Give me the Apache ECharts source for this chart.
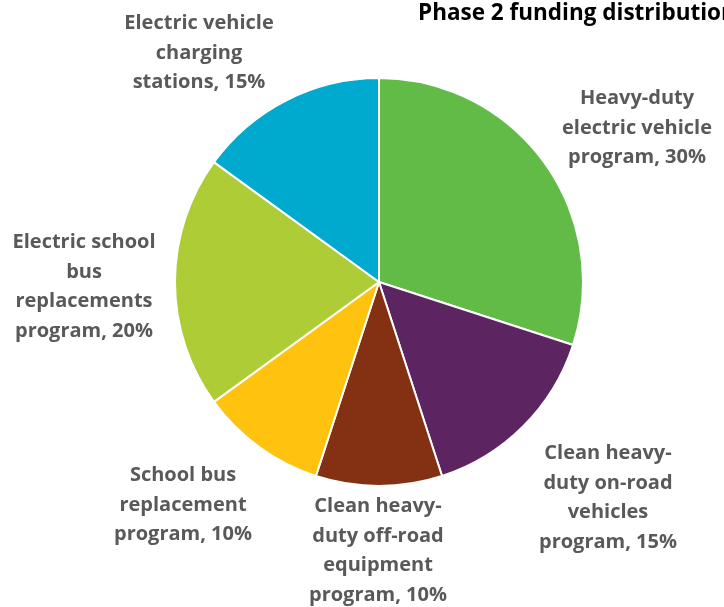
<!DOCTYPE html>
<html><head><meta charset="utf-8">
<script src="https://cdn.jsdelivr.net/npm/echarts@6/dist/echarts.min.js"></script>
<style>html,body{margin:0;padding:0;background:#fff}#c{width:724px;height:607px}</style>
</head><body><div id="c"></div>
<script>
const titleText = 'Phase 2 funding distribution';
const categories = [
  'Heavy-duty\nelectric vehicle\nprogram',
  'Clean heavy-\nduty on-road\nvehicles\nprogram',
  'Clean heavy-\nduty off-road\nequipment\nprogram',
  'School bus\nreplacement\nprogram',
  'Electric school\nbus\nreplacements\nprogram',
  'Electric vehicle\ncharging\nstations'
];
const values = [30, 15, 10, 10, 20, 15];
const colors = ['#62BB46', '#5C2561', '#843113', '#FFC20E', '#ADCC35', '#00A9CE'];
const labelPos = [[637,128],[608,498],[378,551],[183,505],[84,287],[199,53]];

const chart = echarts.init(document.getElementById('c'));
chart.setOption({
  animation: false,
  title: { text: titleText, left: 413, top: -3,
    textStyle: { fontFamily: 'Open Sans', fontWeight: 'bold', fontSize: 22.5, color: '#000' } },
  series: [{
    type: 'pie', center: [379, 282], radius: 204, startAngle: 90, clockwise: true,
    itemStyle: { borderColor: '#fff', borderWidth: 2 },
    data: categories.map((c, i) => ({ name: c, value: values[i], itemStyle: { color: colors[i] } })),
    label: { show: true, formatter: p => p.name + ', ' + p.value + '%',
      fontFamily: 'Open Sans', fontWeight: 'bold', fontSize: 20, lineHeight: 29.5,
      color: '#595959', align: 'center', overflow: 'none', width: 300 },
    labelLine: { show: false },
    labelLayout: p => ({ x: labelPos[p.dataIndex][0], y: labelPos[p.dataIndex][1], align: 'center', verticalAlign: 'middle' })
  }]
});
</script></body></html>
